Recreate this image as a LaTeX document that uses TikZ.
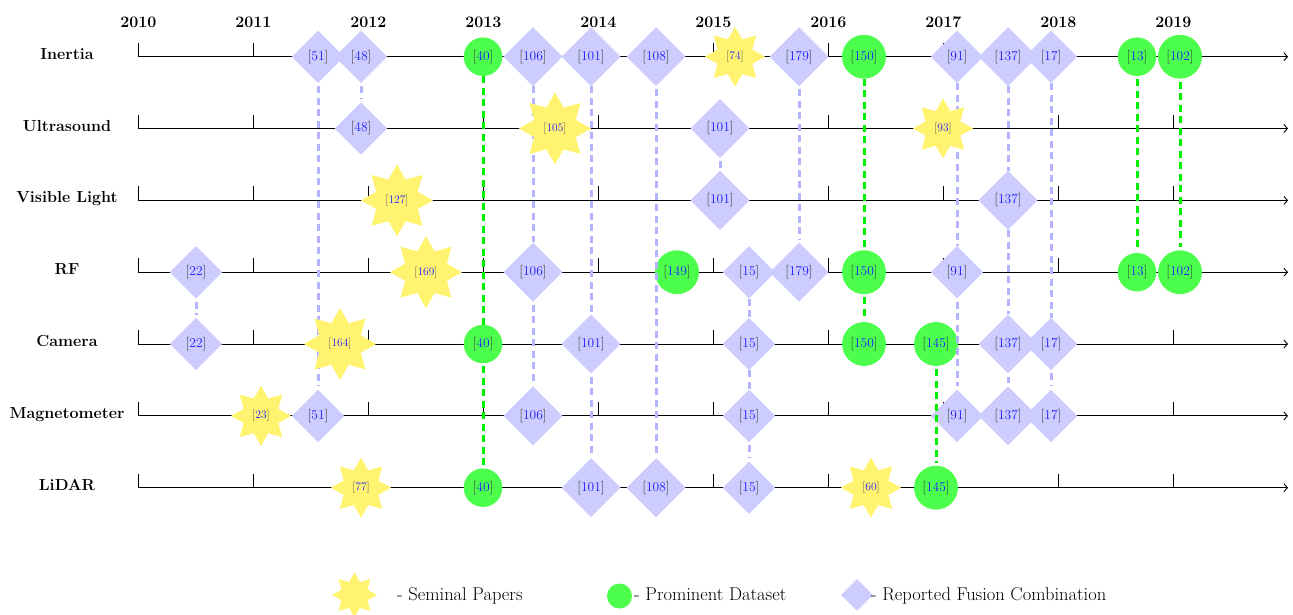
\documentclass[tikz,border=0pt]{standalone}
\usepackage{fontspec}
\usetikzlibrary{shapes.geometric,arrows.meta}
\pgfdeclarelayer{axes}
\pgfdeclarelayer{lines}
\pgfdeclarelayer{front}
\pgfsetlayers{axes,main,lines,front}
\definecolor{lav}{RGB}{204,204,255}
\definecolor{lavline}{RGB}{180,180,255}
\definecolor{grn}{RGB}{77,255,77}
\definecolor{grnline}{RGB}{0,240,0}
\definecolor{ylw}{RGB}{255,243,112}
\definecolor{refblue}{RGB}{30,30,255}
\newcommand\cit[1]{[\textcolor{refblue}{#1}]}
\begin{document}
\begin{tikzpicture}[x=1pt,y=-1pt,
  rowlabel/.style={font=\fontsize{16}{18}\selectfont\bfseries, anchor=base, inner sep=0pt},
  yearlabel/.style={font=\fontsize{16}{18}\selectfont\bfseries, anchor=base, inner sep=0pt},
  fusion/.style={diamond, aspect=1, fill=lav, inner sep=4.6pt, font=\fontsize{13.5}{14}\selectfont, text=black!80},
  dataset/.style={circle, fill=grn, inner sep=5pt, font=\fontsize{13.5}{14}\selectfont, text=black!80},
  seminal/.style={star, star points=8, star point ratio=1.6, fill=ylw, inner sep=0pt, minimum size=60pt, font=\fontsize{11.5}{12}\selectfont, text=black!65},
  bigstar/.style={minimum size=72pt},
  fline/.style={draw=lavline, line width=3pt, dash pattern=on 7pt off 4.5pt, shorten <=3pt, shorten >=3pt},
  gline/.style={draw=grnline, line width=3pt, dash pattern=on 7pt off 4.5pt, shorten <=3pt, shorten >=3pt},
  axisline/.style={line width=0.9pt, -{Straight Barb[length=3.5pt,width=8pt,line width=0.9pt]}},
  yeartick/.style={line width=0.9pt},
  legendtext/.style={font=\fontsize{18.5}{20}\selectfont, anchor=base west, inner sep=0pt}
]
\useasboundingbox (0,0) rectangle (1293,614);
\def\yA{56.7}\def\yB{128.5}\def\yC{200.4}\def\yD{272.2}\def\yE{344.0}\def\yF{415.9}\def\yG{487.7}

% years
\foreach \yr [count=\k from 0] in {2010,...,2019}
  \node[yearlabel] (Y\yr) at (138.3+115*\k, 27.3) {\yr};

% row labels
\node[rowlabel] (LA) at (67,\yA+2.5) {Inertia};
\node[rowlabel] (LB) at (67,\yB+2.5) {Ultrasound};
\node[rowlabel] (LC) at (67,\yC+2.5) {Visible Light};
\node[rowlabel] (LD) at (67,\yD+2.5) {RF};
\node[rowlabel] (LE) at (67,\yE+2.5) {Camera};
\node[rowlabel] (LF) at (67,\yF+2.5) {Magnetometer};
\node[rowlabel] (LG) at (67,\yG+2.5) {LiDAR};

% axes
\begin{pgfonlayer}{axes}
\foreach \y in {\yA,\yB,\yC,\yD,\yE,\yF,\yG}{
  \draw[axisline] (138.3,\y) -- (1288,\y);
  \foreach \k in {0,...,9}
    \draw[yeartick] (138.3+115*\k,\y) -- ++(0,-14);
}
\end{pgfonlayer}

% Inertia
\node[fusion] (A51) at (318,\yA) {\cit{51}};
\node[fusion] (A48) at (361,\yA) {\cit{48}};
\node[dataset] (A40) at (483,\yA) {\cit{40}};
\node[fusion] (A106) at (533,\yA) {\cit{106}};
\node[fusion] (A101) at (591,\yA) {\cit{101}};
\node[fusion] (A108) at (656,\yA) {\cit{108}};
\node[fusion] (A179) at (799,\yA) {\cit{179}};
\node[dataset] (A150) at (864,\yA) {\cit{150}};
\node[fusion] (A91) at (957,\yA) {\cit{91}};
\node[fusion] (A137) at (1008,\yA) {\cit{137}};
\node[fusion] (A17) at (1051,\yA) {\cit{17}};
\node[dataset] (A13) at (1137,\yA) {\cit{13}};
\node[dataset] (A102) at (1180,\yA) {\cit{102}};
% Ultrasound
\node[fusion] (B48) at (361,\yB) {\cit{48}};
\node[fusion] (B101) at (720,\yB) {\cit{101}};
% Visible light
\node[fusion] (C101) at (720,\yC) {\cit{101}};
\node[fusion] (C137) at (1008,\yC) {\cit{137}};
% RF
\node[fusion] (D22) at (196,\yD) {\cit{22}};
\node[fusion] (D106) at (533,\yD) {\cit{106}};
\node[dataset] (D149) at (677,\yD) {\cit{149}};
\node[fusion] (D15) at (749,\yD) {\cit{15}};
\node[fusion] (D179) at (799,\yD) {\cit{179}};
\node[dataset] (D150) at (864,\yD) {\cit{150}};
\node[fusion] (D91) at (957,\yD) {\cit{91}};
\node[dataset] (D13) at (1137,\yD) {\cit{13}};
\node[dataset] (D102) at (1180,\yD) {\cit{102}};
% Camera
\node[fusion] (E22) at (196,\yE) {\cit{22}};
\node[dataset] (E40) at (483,\yE) {\cit{40}};
\node[fusion] (E101) at (591,\yE) {\cit{101}};
\node[fusion] (E15) at (749,\yE) {\cit{15}};
\node[dataset] (E150) at (864,\yE) {\cit{150}};
\node[dataset] (E145) at (936,\yE) {\cit{145}};
\node[fusion] (E137) at (1008,\yE) {\cit{137}};
\node[fusion] (E17) at (1051,\yE) {\cit{17}};
% Magnetometer
\node[fusion] (F51) at (318,\yF) {\cit{51}};
\node[fusion] (F106) at (533,\yF) {\cit{106}};
\node[fusion] (F15) at (749,\yF) {\cit{15}};
\node[fusion] (F91) at (957,\yF) {\cit{91}};
\node[fusion] (F137) at (1008,\yF) {\cit{137}};
\node[fusion] (F17) at (1051,\yF) {\cit{17}};
% LiDAR
\node[dataset] (G40) at (483,\yG) {\cit{40}};
\node[fusion] (G101) at (591,\yG) {\cit{101}};
\node[fusion] (G108) at (656,\yG) {\cit{108}};
\node[fusion] (G15) at (749,\yG) {\cit{15}};
\node[dataset] (G145) at (936,\yG) {\cit{145}};

% seminal papers (on top)
\begin{pgfonlayer}{front}
\node[seminal] (A74) at (735,\yA) {\cit{74}};
\node[seminal, bigstar] (B105) at (555,\yB) {\cit{105}};
\node[seminal] (B93) at (943,\yB) {\cit{93}};
\node[seminal, bigstar] (C127) at (397,\yC) {\cit{127}};
\node[seminal, bigstar] (D169) at (426,\yD) {\cit{169}};
\node[seminal, bigstar] (E164) at (340,\yE) {\cit{164}};
\node[seminal] (F23) at (261,\yF) {\cit{23}};
\node[seminal] (G77) at (361,\yG) {\cit{77}};
\node[seminal] (G60) at (871,\yG) {\cit{60}};
\end{pgfonlayer}

% connectors
\begin{pgfonlayer}{lines}
\draw[fline] (A51) -- (F51);
\draw[fline] (A48) -- (B48);
\draw[fline] (A106) -- (D106) (D106) -- (F106);
\draw[fline] (A101) -- (E101) (E101) -- (G101);
\draw[fline] (A108) -- (G108);
\draw[fline] (A179) -- (D179);
\draw[fline] (B101) -- (C101);
\draw[fline] (D22) -- (E22);
\draw[fline] (D15) -- (E15) (E15) -- (F15) (F15) -- (G15);
\draw[fline] (A91) -- (D91) (D91) -- (F91);
\draw[fline] (A137) -- (C137) (C137) -- (E137) (E137) -- (F137);
\draw[fline] (A17) -- (E17) (E17) -- (F17);
\draw[gline] (A40) -- (E40) (E40) -- (G40);
\draw[gline] (A150) -- (D150) (D150) -- (E150);
\draw[gline] (A13) -- (D13);
\draw[gline] (A102) -- (D102);
\draw[gline] (E145) -- (G145);
\end{pgfonlayer}

% legend
\node[seminal, minimum size=45pt] (Ls) at (354.5,595) {};
\node[legendtext] (Lst) at (397,600) {- Seminal Papers};
\node[dataset, inner sep=0pt, minimum size=25pt] (Ld) at (619.5,596) {};
\node[legendtext] (Ldt) at (634,600) {- Prominent Dataset};
\node[fusion, inner sep=0pt, minimum size=32pt] (Lf) at (857,595) {};
\node[legendtext] (Lft) at (871,600) {- Reported Fusion Combination};
\end{tikzpicture}
\end{document}
